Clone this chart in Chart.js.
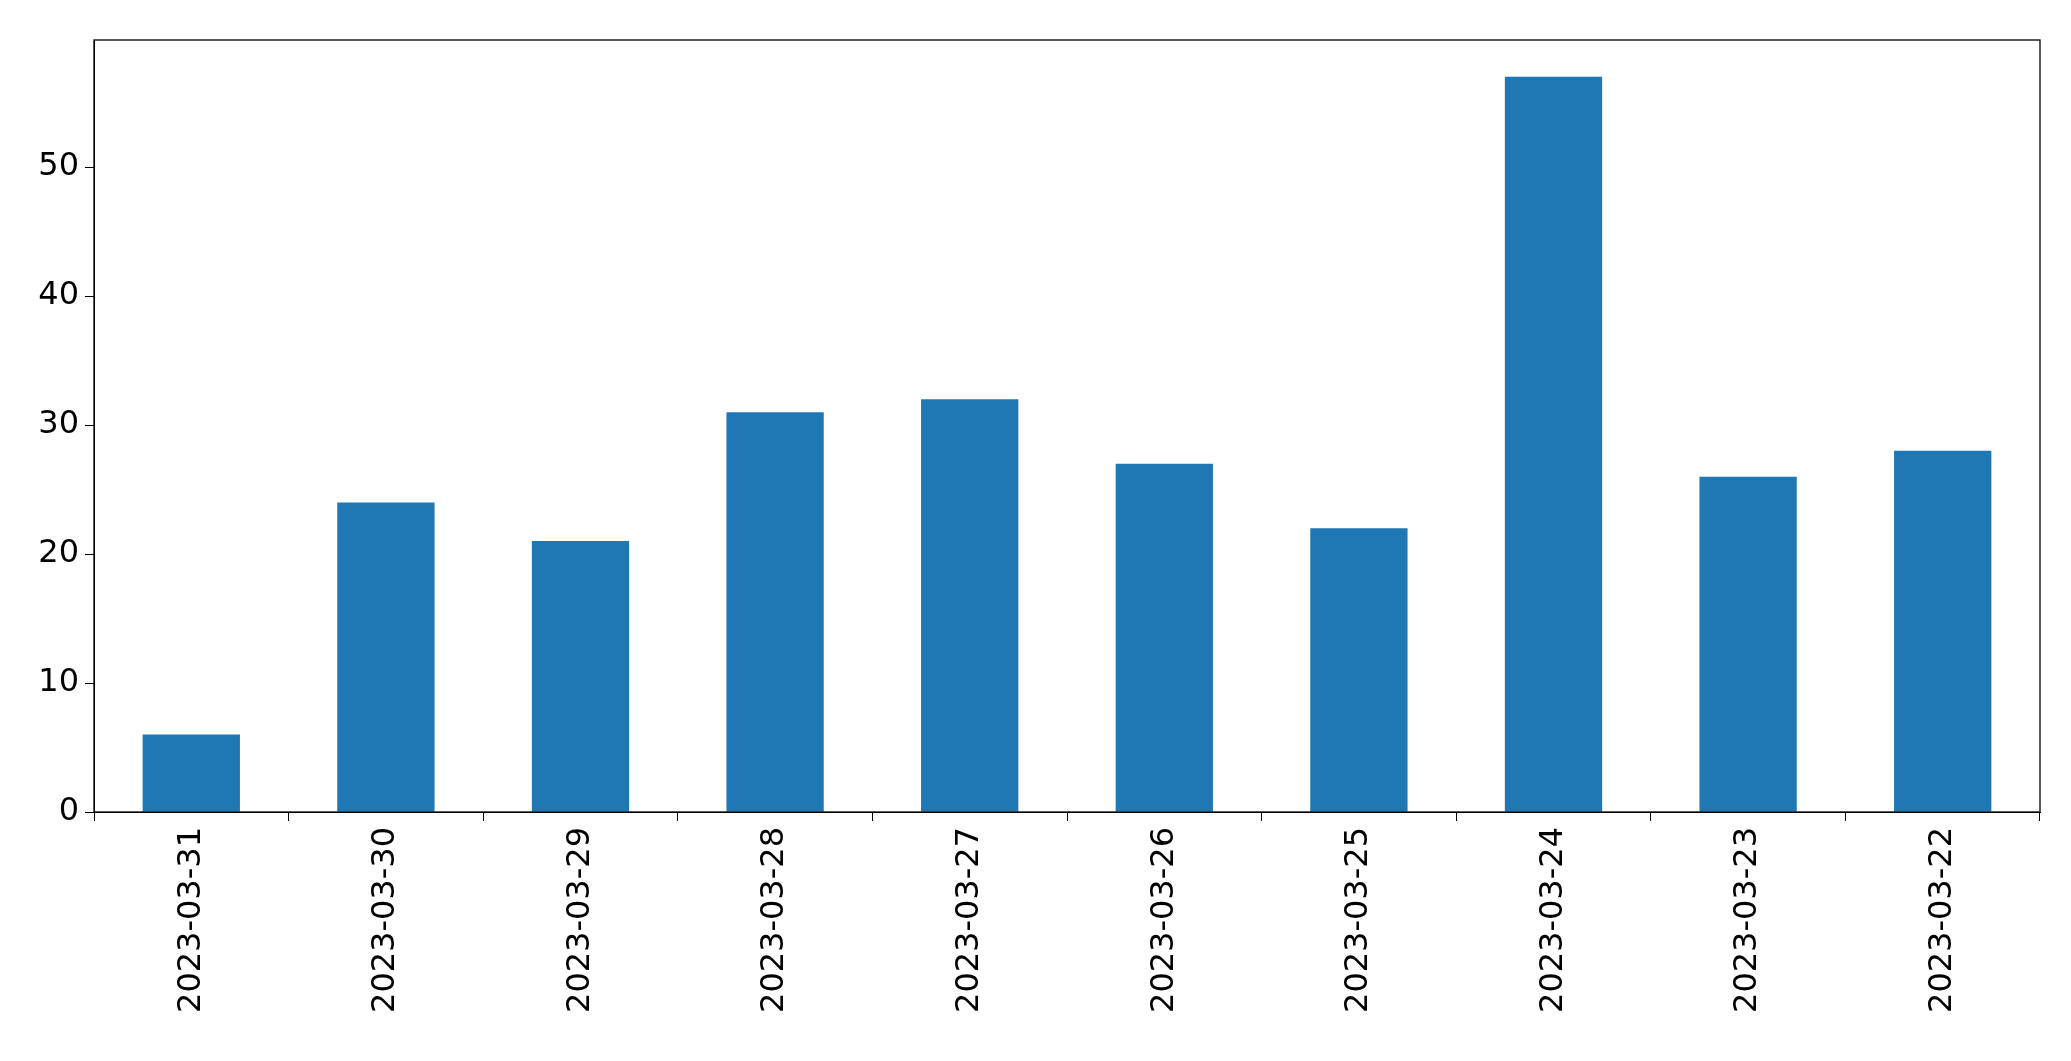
<!DOCTYPE html>
<html><head><meta charset="utf-8">
<script src="https://cdn.jsdelivr.net/npm/chart.js@4"></script>
<style>html,body{margin:0;padding:0;background:#fff}#w{width:2071px;height:1061px}</style>
</head><body><div id="w"><canvas id="c"></canvas></div>
<script>
const categories = ["2023-03-31","2023-03-30","2023-03-29","2023-03-28","2023-03-27","2023-03-26","2023-03-25","2023-03-24","2023-03-23","2023-03-22"];
const values = [6,24,21,31,32,27,22,57,26,28];
const yTicks = [0,10,20,30,40,50];
const frame = {id:'frame', afterDraw(ch){const a=ch.chartArea,c=ch.ctx;c.save();c.strokeStyle='#000';c.lineWidth=1.3;c.strokeRect(a.left,a.top,a.right-a.left,a.bottom-a.top);c.restore();}};
new Chart(document.getElementById('c'),{
 type:'bar',
 data:{labels:categories,datasets:[{data:values,backgroundColor:'#1f77b4',barPercentage:0.5,categoryPercentage:1}]},
 options:{responsive:true,maintainAspectRatio:false,animation:false,
  layout:{padding:{top:40,right:31,left:0,bottom:0}},
  plugins:{legend:{display:false},tooltip:{enabled:false}},
  scales:{
   x:{grid:{drawOnChartArea:false,drawTicks:true,tickLength:9,color:'#000'},border:{display:true,color:'#000'},
      ticks:{color:'#000',font:{family:'DejaVu Sans',size:32},maxRotation:90,minRotation:90,padding:6},
      afterFit(s){s.height=249;}},
   y:{min:0,max:59.85,grid:{drawOnChartArea:false,drawTicks:true,tickLength:9,color:'#000'},border:{display:true,color:'#000'},
      afterBuildTicks(s){s.ticks=yTicks.map(v=>({value:v}));},
      ticks:{color:'#000',font:{family:'DejaVu Sans',size:32},padding:6},
      afterFit(s){s.width=94;}}
  }},
 plugins:[frame]
});
</script></body></html>
